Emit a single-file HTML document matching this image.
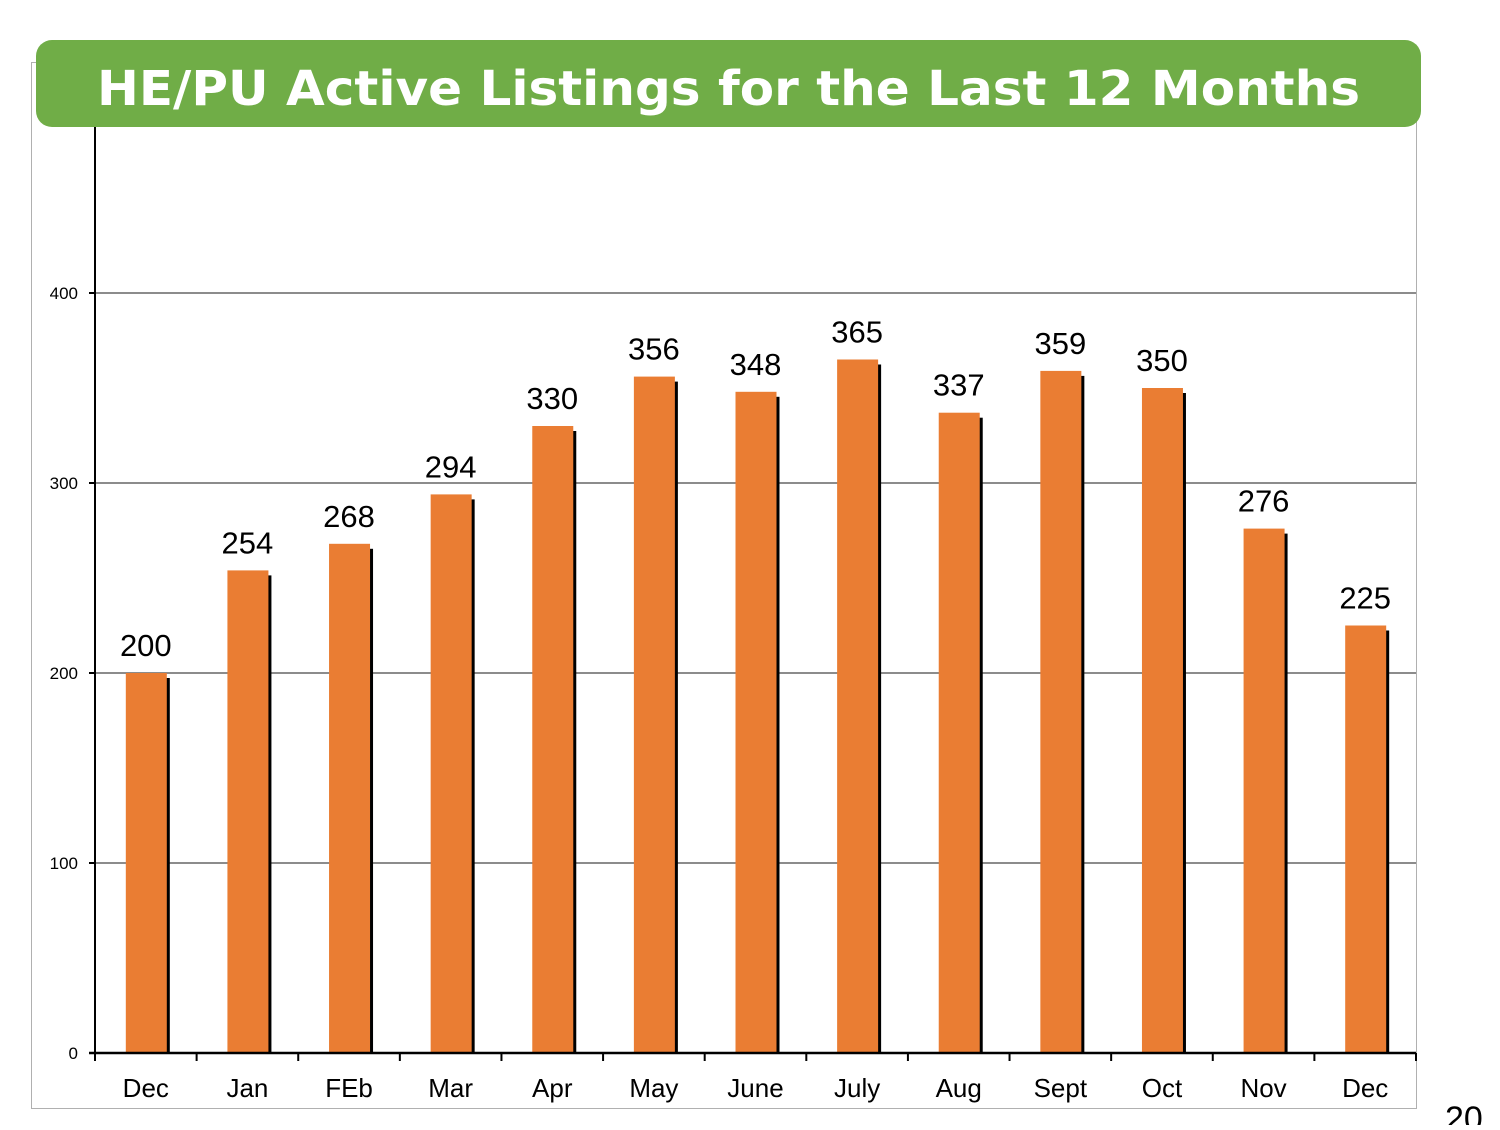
<!DOCTYPE html>
<html><head><meta charset="utf-8"><style>
body{margin:0;width:1500px;height:1125px;background:#fff;overflow:hidden;font-family:"Liberation Sans",sans-serif}
</style></head><body>
<svg id="chart" width="1500" height="1125" font-family="Liberation Sans, sans-serif">
<rect x="31.5" y="62.5" width="1385" height="1046" fill="none" stroke="#b0b0b0"/>
<g id="grid"></g><g id="bars"></g><g id="axes"></g>
<rect x="36" y="40" width="1385" height="87" rx="16" fill="#70ad47"/>
<text x="97" y="105" font-family="DejaVu Sans, sans-serif" font-size="48" font-weight="bold" fill="#fff" textLength="1263" lengthAdjust="spacingAndGlyphs">HE/PU Active Listings for the Last 12 Months</text>
<text x="1445" y="1130" font-size="34" fill="#000">20</text>
</svg>
<script>
const categories=["Dec","Jan","FEb","Mar","Apr","May","June","July","Aug","Sept","Oct","Nov","Dec"];
const values=[200,254,268,294,330,356,348,365,337,359,350,276,225];
const yTicks=[0,100,200,300,400];
const NS="http://www.w3.org/2000/svg";
const x0=95,x1=1416,y0=1053,pxPer=1.9;
const bw=(x1-x0)/categories.length;
const y=v=>y0-v*pxPer;
const xc=i=>x0+bw*(i+0.5);
function mk(tag,attrs,parent,text){const e=document.createElementNS(NS,tag);for(const k in attrs)e.setAttribute(k,attrs[k]);if(text!==undefined)e.textContent=text;document.getElementById(parent).appendChild(e);return e;}
yTicks.forEach(t=>{
 if(t>0){const g=mk('line',{x1:x0,x2:x1,y1:y(t),y2:y(t),stroke:'#8c8c8c','stroke-width':2},'grid');
 
 }
 const tk=mk('line',{x1:x0-6,x2:x0,y1:y(t),y2:y(t),stroke:'#000','stroke-width':2},'axes');
 
 
 const l=mk('text',{x:x0-17,y:y(t)+6,'text-anchor':'end','font-size':17},'axes',t);
 
 
});
values.forEach((v,i)=>{
 const cx=xc(i);
 const s=mk('rect',{x:cx+20,y:y(v)+5,width:4,height:y0-y(v)-5,fill:'#000'},'bars');
 
 
 const b=mk('rect',{x:cx-20,y:y(v),width:41,height:y0-y(v),fill:'#ea7d33'},'bars');
 
 
 const t=mk('text',{x:cx,y:y(v)-17,'text-anchor':'middle','font-size':31},'bars',v);
 
 
 const c=mk('text',{x:cx,y:1097,'text-anchor':'middle','font-size':26},'axes',categories[i]);
 
 
});
for(let i=0;i<=categories.length;i++){
 const tk=mk('line',{x1:x0+bw*i,x2:x0+bw*i,y1:y0,y2:y0+8,stroke:'#000','stroke-width':2},'axes');
 
 
}
const ya=mk('line',{x1:x0,x2:x0,y1:127,y2:y0,stroke:'#000','stroke-width':2},'axes');


const xa=mk('line',{x1:x0-6,x2:x1,y1:y0,y2:y0,stroke:'#000','stroke-width':2.5},'axes');


</script>
</body></html>
